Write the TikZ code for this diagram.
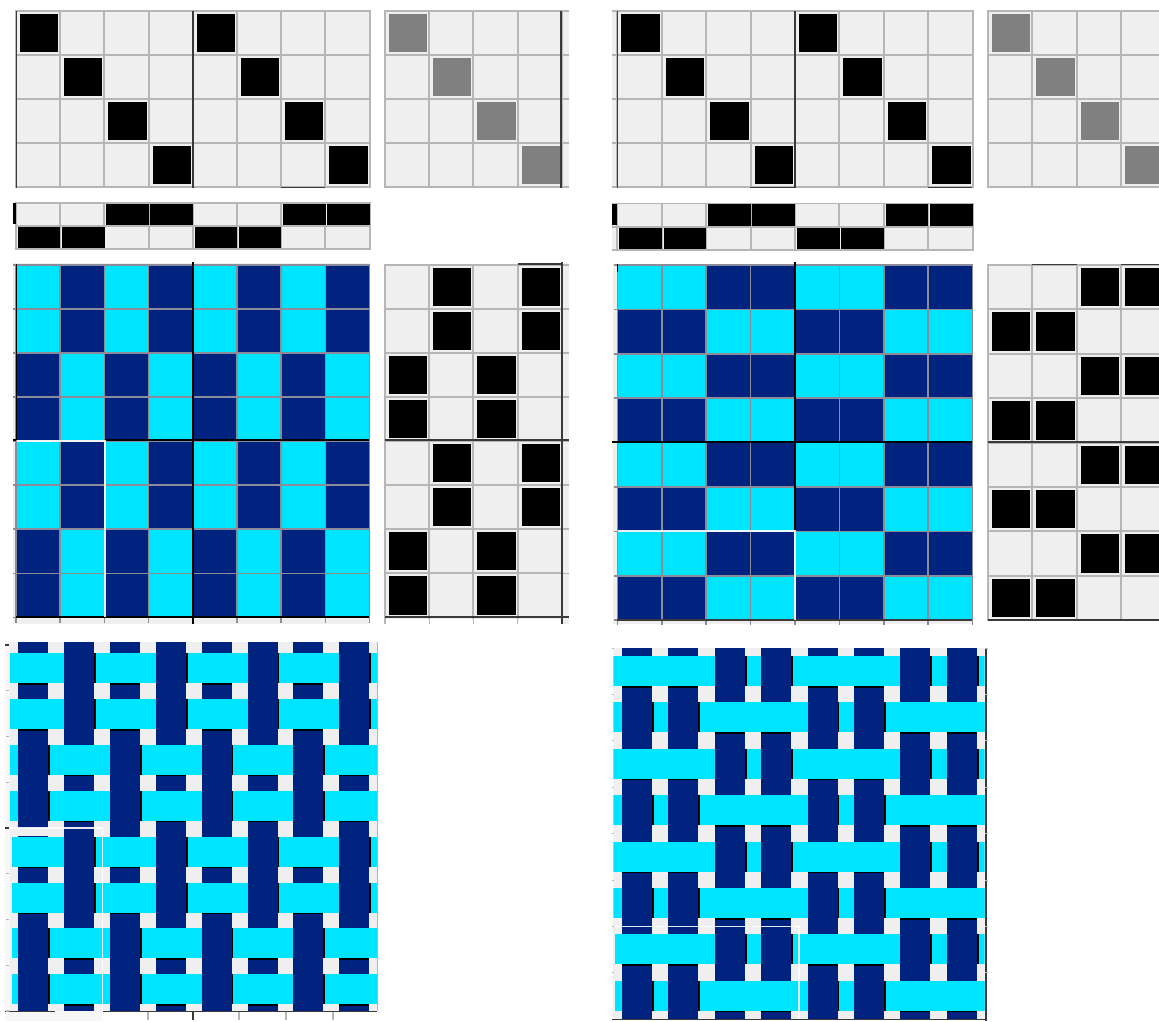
\documentclass[tikz,border=0pt]{standalone}
\definecolor{wv}{HTML}{00E5FF}
\definecolor{nv}{HTML}{00237F}
\definecolor{bgc}{HTML}{EFEFEF}
\definecolor{gln}{HTML}{B6B6B6}
\definecolor{cln}{HTML}{8C8C98}
\definecolor{dk}{HTML}{3A3A3A}
\definecolor{gsq}{HTML}{808080}
% #1 x0, #2 y0, #3 cell w, #4 cell h, #5 rows-1, #6 cols-1, #7 predicate, #8 colour, #9 inset
\newcommand{\cellmat}[9]{%
  \fill[bgc] (#1-1,#2-1) rectangle (#1+#3*#6+#3+1,#2+#4*#5+#4+1);
  \pgfmathtruncatemacro{\na}{#5+1}\pgfmathtruncatemacro{\nb}{#6+1}
  \foreach \r in {0,...,\na}{\draw[gln,line width=1.9pt] (#1-1,#2+\r*#4) -- (#1+#3*#6+#3+1,#2+\r*#4);}
  \foreach \c in {0,...,\nb}{\draw[gln,line width=1.9pt] (#1+\c*#3,#2-1) -- (#1+\c*#3,#2+#4*#5+#4+1);}
  \foreach \r in {0,...,#5}{\foreach \c in {0,...,#6}{
    \pgfmathtruncatemacro{\hit}{#7}
    \ifnum\hit=1
      \fill[#8] (#1+\c*#3+#9+.9,#2+\r*#4+#9) rectangle (#1+\c*#3+#3-#9+.9,#2+\r*#4+#4-#9);
    \fi}}
}
% colour matrix: #1 x0, #2 y0, #3 w, #4 h, #5 predicate for cyan
\newcommand{\colmat}[5]{%
  \foreach \r in {0,...,7}{\foreach \c in {0,...,7}{
    \pgfmathtruncatemacro{\hit}{#5}
    \ifnum\hit=1 \def\cc{wv}\else\def\cc{nv}\fi
    \fill[\cc] (#1+\c*#3,#2+\r*#4) rectangle (#1+\c*#3+#3,#2+\r*#4+#4);}}
  \foreach \r in {0,...,8}{\draw[cln,line width=1.7pt] (#1-3,#2+\r*#4) -- (#1+8*#3,#2+\r*#4);}
  \foreach \c in {0,...,8}{\draw[cln,line width=1.7pt] (#1+\c*#3,#2) -- (#1+\c*#3,#2+8*#4+5);}
}
% weave: #1 x0 #2 y0 #3 pitch #4 left #5 top #6 right #7 bottom #8 predicate for cyan on top
\newcommand{\weave}[8]{%
  \begin{scope}
  \clip (#4,#5) rectangle (#6,#7);
  \fill[bgc] (#4,#5) rectangle (#6,#7);
  \foreach \r in {0,...,7}{\fill[wv] (#4,#2+\r*#3+8) rectangle (#6,#2+\r*#3+38);}
  \foreach \c in {0,...,7}{\fill[nv] (#1+\c*#3+8,#5) rectangle (#1+\c*#3+38,#7);}
  \foreach \r in {0,...,7}{\foreach \c in {0,...,7}{
    \pgfmathtruncatemacro{\hit}{#8}
    \ifnum\hit=1
      \fill[wv] (#1+\c*#3-.2,#2+\r*#3+8) rectangle (#1+\c*#3+#3+.2,#2+\r*#3+38);
    \fi}}
  \foreach \r in {0,...,7}{\foreach \c in {0,...,7}{
    \pgfmathtruncatemacro{\hit}{#8}
    \ifnum\hit=1
      \fill[black] (#1+\c*#3+8,#2+\r*#3+38) rectangle (#1+\c*#3+38,#2+\r*#3+39.6);
    \else
      \fill[black] (#1+\c*#3+38,#2+\r*#3+8) rectangle (#1+\c*#3+39.8,#2+\r*#3+38);
    \fi}}
  \end{scope}
}
\tikzset{darkline/.style={dk,line width=1.7pt},
  axisline/.style={black,line width=1.9pt},
  whiteline/.style={white,line width=1.5pt,opacity=.9},
  tickmark/.style={gln,line width=1.4pt}}
\begin{document}
\begin{tikzpicture}[x=1pt,y=-1pt]
\clip (0,0) rectangle (1159,1021);
\fill[white] (0,0) rectangle (1159,1021);
% ---------- left panel
\cellmat{16}{11}{44.2}{44}{3}{7}{mod(\c,4)==\r}{black}{3}
\fill[bgc] (561,10) rectangle (569,188);
\foreach \k in {0,...,4}{\draw[gln,line width=1.9pt] (561,11+\k*44) -- (569,11+\k*44);}
\cellmat{385}{11}{44.2}{44}{3}{3}{\c==\r}{gsq}{3}
\draw[darkline] (561,11) -- (561,187.5);
\cellmat{16}{203}{44.2}{22.8}{1}{7}{(\r==0 && mod(floor(\c/2),2)==1) || (\r==1 && mod(floor(\c/2),2)==0)}{black}{.8}
\draw[darkline] (16.5,11) -- (16.5,187.5);
\draw[darkline] (192.7,11) -- (192.7,188);
\draw[darkline] (281,187.5) -- (325,187.5);
\fill[black] (13,203) rectangle (16,224);
\fill[bgc] (13,263) rectangle (370,624);
\colmat{16}{264.7}{44.2}{44.1}{mod(\c+floor(\r/2),2)==0}
\draw[axisline] (16.5,264) -- (16.5,440);
\draw[axisline] (192.7,262) -- (192.7,624);
\draw[axisline] (104.5,440) -- (369,440);
\draw[axisline] (13,440) -- (16,440);
\draw[axisline] (16,617) -- (369,617);
\draw[whiteline] (16.5,441) -- (104.8,441) -- (104.8,617);
\fill[bgc] (561,263) rectangle (569,624);
\cellmat{385}{264.7}{44.2}{44.1}{7}{3}{mod(\c+floor(\r/2),2)==1}{black}{3}
\foreach \k in {0,...,8}{\draw[gln,line width=1.7pt] (562,264.7+\k*44.1) -- (569,264.7+\k*44.1);}
\foreach \k in {0,...,4}{\draw[tickmark] (385+\k*44.2,617) -- (385+\k*44.2,624);}
\draw[darkline] (385,440) -- (569,440);
\draw[darkline] (385,617) -- (569,617);
\draw[darkline] (562,262) -- (562,624);
\draw[darkline] (517.6,264) -- (562,264);
% left weave
\fill[bgc!50] (5,642) rectangle (10,1021);
\fill[bgc!50] (10,1011) rectangle (103,1021);
\weave{10}{645}{45.9}{10}{642}{377}{1011}{mod(\c+floor(\r/2),2)==0}
\draw[gln,line width=1.6pt] (377.5,642) -- (377.5,1011);
\fill[bgc] (10,828) rectangle (12,1011);
\fill[bgc] (18,827.5) rectangle (48,835.5);
\draw[whiteline] (10,828) -- (102.5,828) -- (102.5,1021);
\draw[dk,line width=1.4pt] (5,1011.5) -- (55,1011.5);
\draw[dk,line width=1.4pt] (103,1011.5) -- (377,1011.5);
\foreach \k in {0,...,8}{\draw[gln,line width=1.2pt] (6,645+\k*45.75) -- (9,645+\k*45.75);}
\draw[dk,line width=2pt] (5,645) -- (9,645);
\draw[dk,line width=2pt] (5,828) -- (9,828);
\foreach \xx in {148,239,286,333}{\draw[tickmark] (\xx,1012) -- (\xx,1020);}
\draw[dk,line width=1.6pt] (193,1012) -- (193,1020);
% ---------- right panel
\fill[bgc] (612,10) rectangle (617,188);
\foreach \k in {0,...,4}{\draw[gln,line width=1.9pt] (612,11+\k*44) -- (617,11+\k*44);}
\cellmat{617.4}{11}{44.4}{44}{3}{7}{mod(\c,4)==\r}{black}{3}
\cellmat{988}{11}{44.4}{44}{3}{3}{\c==\r}{gsq}{3}
\fill[bgc] (612,203) rectangle (617,250);
\foreach \k in {0,1,2}{\draw[gln,line width=1.9pt] (612,203.5+\k*23.2) -- (617,203.5+\k*23.2);}
\cellmat{617.4}{203.5}{44.4}{23.2}{1}{7}{(\r==0 && mod(floor(\c/2),2)==1) || (\r==1 && mod(floor(\c/2),2)==0)}{black}{.8}
\draw[darkline] (617.5,11) -- (617.5,187.5);
\draw[darkline] (795,11) -- (795,188);
\draw[darkline] (750.2,187.5) -- (795,187.5);
\draw[darkline] (928,187.5) -- (972,187.5);
\fill[black] (612,204) rectangle (617,225);
\fill[bgc] (613,264) rectangle (973,624);
\colmat{617.4}{265}{44.4}{44.4}{mod(floor(\c/2)+\r,2)==0}
\draw[axisline] (617.5,264) -- (617.5,272);
\draw[axisline] (795,262) -- (795,531);
\draw[axisline] (612,442) -- (972,442);
\draw[darkline] (617,620) -- (972,620);
\draw[whiteline] (617.5,531) -- (795,531) -- (795,620);
\cellmat{988}{265}{44.4}{44.4}{7}{3}{mod(floor(\c/2)+\r,2)==1}{black}{3}
\draw[darkline] (988,442) -- (1159,442);
\draw[darkline] (988,620) -- (1159,620);
\draw[darkline] (1032.4,264.5) -- (1076.8,264.5);
\draw[darkline] (1121,264.5) -- (1159,264.5);
% right weave
\weave{614}{648}{46.4}{613.3}{647.5}{984.5}{1018.5}{mod(floor(\c/2)+\r,2)==0}
\fill[bgc] (613.3,926.5) rectangle (614.5,1018);
\draw[whiteline] (613,926.5) -- (799,926.5) -- (799,1021);
\draw[dk,line width=1.8pt] (612,1019.5) -- (986,1019.5);
\draw[dk,line width=1.4pt] (986,648) -- (986,1021);
\foreach \k in {0,...,7}{
  \draw[gln,line width=1pt] (612,648+\k*46.4) -- (614,648+\k*46.4);
  \draw[gln,line width=1pt] (985,648+\k*46.4) -- (988,648+\k*46.4);}
\end{tikzpicture}
\end{document}
